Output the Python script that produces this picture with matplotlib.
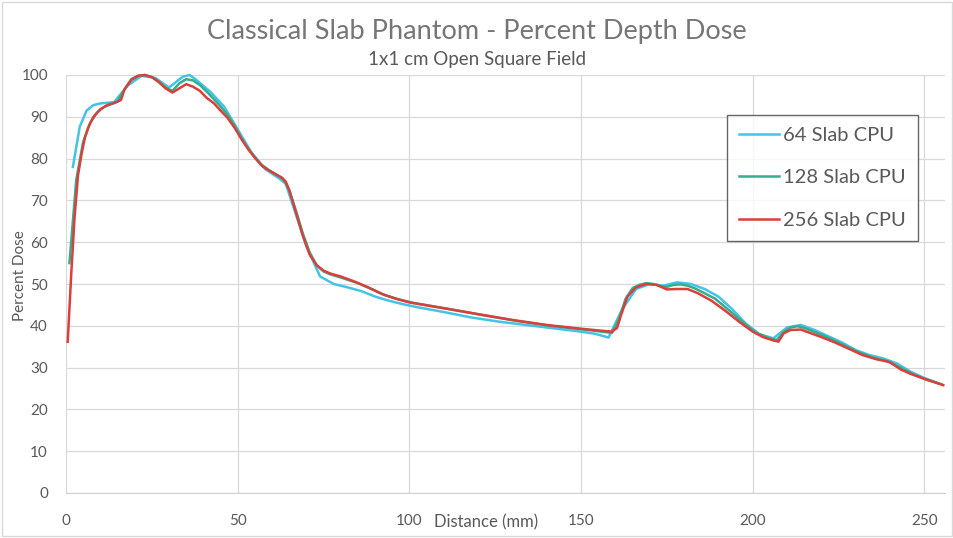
import matplotlib
matplotlib.use("Agg")
import matplotlib.pyplot as plt

plt.rcParams['font.family'] = ['Lato', 'DejaVu Sans']

# 64 slab series (4 mm bins)
x64 = [2, 4, 6, 8, 10, 14, 18, 22, 26, 30, 34, 36, 38, 42, 46, 50, 54, 58, 62, 64, 66,
       70, 74, 78, 82, 86, 90, 94, 98, 102, 110, 118, 126, 134, 142, 150, 154, 158,
       162, 166, 170, 174, 178, 182, 186, 190, 194, 198, 202, 206, 210, 214, 218,
       222, 226, 230, 234, 238, 242, 246, 250, 254]
y64 = [78, 87.6, 91.5, 92.8, 93.2, 93.5, 97.5, 99.8, 99.3, 97, 99.6, 100, 98.8, 96, 92.5,
       87, 81.5, 77.5, 75.3, 74, 69, 59, 51.8, 50, 49.2, 48.3, 47, 46, 45.2, 44.5,
       43.3, 42, 41, 40.2, 39.4, 38.6, 38.1, 37.2, 44, 48.8, 50, 49.6, 50.4, 50,
       48.8, 47, 44, 40.5, 38, 37, 39.6, 40.2, 39, 37.5, 36, 34.2, 33, 32.2, 31, 29,
       27.5, 26.3]

# 128 slab series (2 mm bins)
x128 = [1, 3, 5, 7, 9, 11, 13, 15, 17, 19, 21, 23, 25, 27, 29, 31, 33, 35, 37, 39, 41,
        43, 45, 47, 49, 51, 53, 55, 57, 59, 61, 63, 65, 67, 69, 71, 73, 75, 77, 81,
        85, 89, 93, 97, 101, 111, 121, 131, 141, 151, 155, 159, 161, 163, 165, 167,
        169, 171, 173, 175, 177, 179, 181, 183, 185, 189, 193, 197, 201, 205, 207,
        209, 211, 213, 215, 219, 223, 227, 231, 235, 239, 243, 247, 251, 255]
y128 = [55, 75, 84, 88.5, 91, 92.3, 93, 93.6, 96.5, 99, 99.8, 100, 99.5, 98.5, 97, 96.2,
        98, 99, 98.7, 97.6, 96, 94.3, 92.5, 90.5, 88, 85, 82.5, 80.3, 78.5, 77.3,
        76.3, 75.4, 72.5, 67.5, 62, 57.5, 54.5, 53, 52.3, 51.3, 50.2, 48.8, 47.3,
        46.3, 45.5, 44.1, 42.6, 41.2, 40, 39.1, 38.7, 38.3, 41.5, 46.5, 49, 49.8,
        50.2, 50, 49.5, 49.3, 49.8, 49.9, 49.6, 49, 48.2, 46.5, 43.8, 41, 38.3, 37,
        36.6, 38.5, 39.6, 39.9, 39.5, 38.2, 36.8, 35.2, 33.6, 32.4, 31.6, 30, 28.3,
        27, 26]

# 256 slab series (1 mm bins)
x256 = [0.5, 1.5, 2.5, 3.5, 4.5, 5.5, 6.5, 8, 10, 12, 14, 16, 17, 19, 21, 23, 25, 27,
        29, 31, 33, 35, 37, 39, 41, 43, 45, 47, 49, 51, 53, 55, 57, 59, 61, 63, 64,
        65, 67, 69, 71, 73, 75, 77, 80, 84, 88, 92, 96, 100, 110, 120, 130, 140,
        150, 155, 159, 160.5, 161.5, 163.5, 166, 169, 172, 175, 178, 181, 184, 188,
        192, 196, 200, 203, 206, 207.5, 209, 211, 214, 217, 220, 224, 228, 232, 236,
        240, 243, 246, 250, 253, 255.5]
y256 = [36.2, 52, 66, 76, 81, 85, 87.5, 90, 91.8, 92.8, 93.3, 94, 96.5, 98.8, 99.8, 100,
        99.5, 98.3, 96.8, 95.8, 96.8, 97.8, 97.2, 96.2, 94.5, 93.3, 91.5, 89.8, 87.5,
        84.8, 82.3, 80.2, 78.3, 77.2, 76.3, 75.3, 74.5, 72.5, 67, 61.5, 57, 54.5,
        53.2, 52.5, 51.8, 50.6, 49.2, 47.6, 46.5, 45.6, 44.2, 42.8, 41.4, 40.2, 39.3,
        38.9, 38.6, 39.5, 42.2, 47, 49.2, 50, 49.8, 48.7, 48.8, 48.8, 47.8, 46, 43.6,
        41, 38.6, 37.3, 36.5, 36.2, 38.2, 39, 39.1, 38.2, 37.3, 36, 34.5, 33, 32,
        31.3, 29.6, 28.5, 27.3, 26.5, 25.8]

series = [
    ("64 Slab CPU", x64, y64, "#45C3E6"),
    ("128 Slab CPU", x128, y128, "#33AE8E"),
    ("256 Slab CPU", x256, y256, "#D9403C"),
]

fig = plt.figure(figsize=(9.54, 5.38), dpi=100)
ax = fig.add_axes([66 / 954, 45 / 538, 879 / 954, 418 / 538])

for name, xs, ys, col in series:
    ax.plot(xs, ys, color=col, lw=1.8, label=name, clip_on=False)

ax.set_xlim(0, 256)
ax.set_ylim(0, 100)
ax.set_xticks(range(0, 251, 50))
ax.set_yticks(range(0, 101, 10))
ax.grid(True, color="#D9D9D9", lw=0.9)
ax.set_axisbelow(True)
for s in ["top", "right", "left"]:
    ax.spines[s].set_visible(False)
ax.spines["bottom"].set_color("#D0D0D0")
ax.tick_params(length=0, labelcolor="#595959", labelsize=11)
ax.tick_params(axis="x", pad=15)
ax.tick_params(axis="y", pad=13)

fig.text(0.5, 1 - 31 / 538, "Classical Slab Phantom - Percent Depth Dose",
         ha="center", va="center", fontsize=19.5, color="#767676")
fig.text(0.5, 1 - 60 / 538, "1x1 cm Open Square Field",
         ha="center", va="center", fontsize=13.5, color="#595959")
fig.text(486 / 954, 1 - 522 / 538, "Distance (mm)", ha="center", va="center",
         fontsize=12, color="#595959")
fig.text(20 / 954, 1 - 276 / 538, "Percent Dose", ha="center", va="center",
         rotation=90, fontsize=11, color="#595959")

leg = ax.legend(loc="upper left", bbox_to_anchor=(727 / 954, 1 - 115 / 538),
                bbox_transform=fig.transFigure, fontsize=14.5, frameon=True,
                fancybox=False, handlelength=2.0, handletextpad=0.2,
                labelspacing=1.25, borderpad=0.6, borderaxespad=0,
                labelcolor="#595959")
leg.get_frame().set_edgecolor("#404040")
leg.get_frame().set_linewidth(1.0)

fig.patches.append(plt.Rectangle((0.002, 0.003), 0.996, 0.994, transform=fig.transFigure,
                                 fill=False, edgecolor="#D9D9D9", lw=1))

fig.savefig("out.png", dpi=100)
